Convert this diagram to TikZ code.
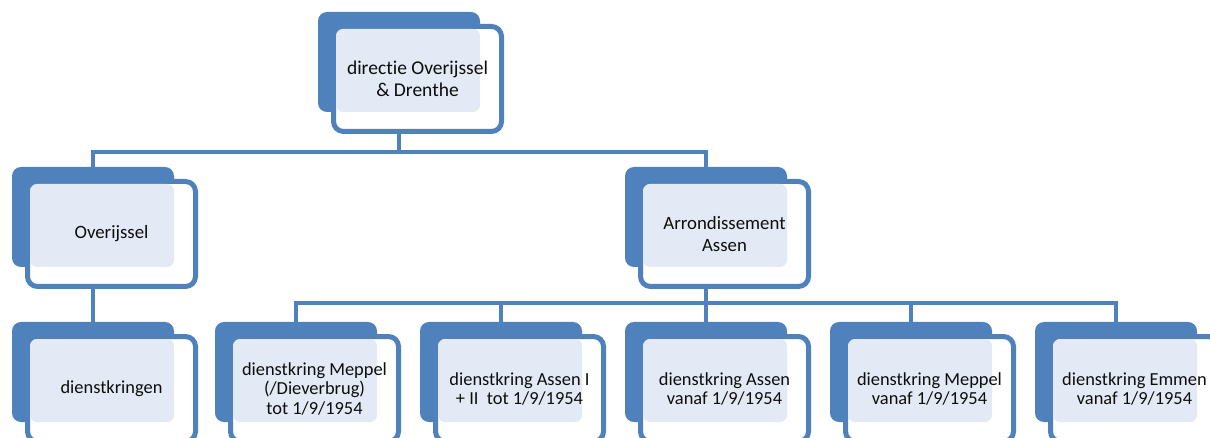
\documentclass[tikz,border=0pt]{standalone}
\usepackage{fontspec}
\setmainfont{Carlito}[RawFeature={-liga}]
\usetikzlibrary{calc}
\definecolor{accent}{HTML}{4F81BD}
\definecolor{shade}{HTML}{E3EAF5}
\definecolor{ink}{HTML}{0D0D0D}
\pgfdeclarelayer{bg}
\pgfsetlayers{bg,main}
\tikzset{
  backbox/.style={rectangle, fill=accent, rounded corners=9pt,
    minimum width=162pt, minimum height=100pt, inner sep=0pt},
  frontbox/.style={rectangle, draw=accent, line width=5pt, fill=white,
    rounded corners=10pt, minimum width=168pt, minimum height=105pt, inner sep=0pt},
  shadebox/.style={rectangle, fill=shade, rounded corners=7pt,
    minimum width=144pt, minimum height=83pt, inner sep=0pt},
  label/.style={align=center, text=ink, inner sep=0pt},
  lvlone/.style={font=\fontsize{19.5}{22}\selectfont},
  lvltwo/.style={font=\fontsize{18.8}{22}\selectfont},
  lvlthree/.style={font=\fontsize{18.4}{19.5}\selectfont},
  conn/.style={draw=accent, line width=4pt},
}
% one organisation unit: back panel, framed front panel, shaded overlap, caption
\newcommand\orgunit[5]{%
  \begin{scope}[shift={(#2,#3)}]
    \node[backbox] (#1) at (81,50) {};
    \node[frontbox] (#1f) at (99.5,67) {};
    \node[shadebox] (#1s) at (90,58.5) {};
    \node[label,#4] (#1t) at (99.5,67) {#5};
  \end{scope}}
\begin{document}
\begin{tikzpicture}[x=1pt,y=-1pt]
  \useasboundingbox (0,0) rectangle (1210,438);
  \clip (0,0) rectangle (1210,438);
  \orgunit{dir}{318}{12}{lvlone}{directie Overijssel\\\& Drenthe}
  \orgunit{ov}{12}{167}{lvltwo}{Overijssel}
  \orgunit{arr}{625}{167}{lvltwo}{Arrondissement\\Assen}
  \orgunit{dk}{12}{322}{lvlthree}{dienstkringen}
  \orgunit{da}{215}{322}{lvlthree}{dienstkring Meppel\\(/Dieverbrug)\\tot 1/9/1954}
  \orgunit{db}{420}{322}{lvlthree}{dienstkring Assen I\\+ II\ \ tot 1/9/1954}
  \orgunit{dc}{625}{322}{lvlthree}{dienstkring Assen\\vanaf 1/9/1954}
  \orgunit{dd}{830}{322}{lvlthree}{dienstkring Meppel\\vanaf 1/9/1954}
  \orgunit{de}{1035}{322}{lvlthree}{dienstkring Emmen\\vanaf 1/9/1954}
  \coordinate (bus1) at (399,152);
  \coordinate (bus2) at (706,303);
  \begin{pgfonlayer}{bg}
    \draw[conn] (dir.south) -- (bus1);
    \draw[conn] (ov.north) |- (bus1) -| (arr.north);
    \draw[conn] (ov.south) -- (dk.north);
    \draw[conn] (arr.south) -- (bus2);
    \draw[conn] (da.north) |- (bus2) -| (de.north);
    \draw[conn] (db.north) -- (db.north |- bus2);
    \draw[conn] (dc.north) -- (dc.north |- bus2);
    \draw[conn] (dd.north) -- (dd.north |- bus2);
  \end{pgfonlayer}
\end{tikzpicture}
\end{document}
